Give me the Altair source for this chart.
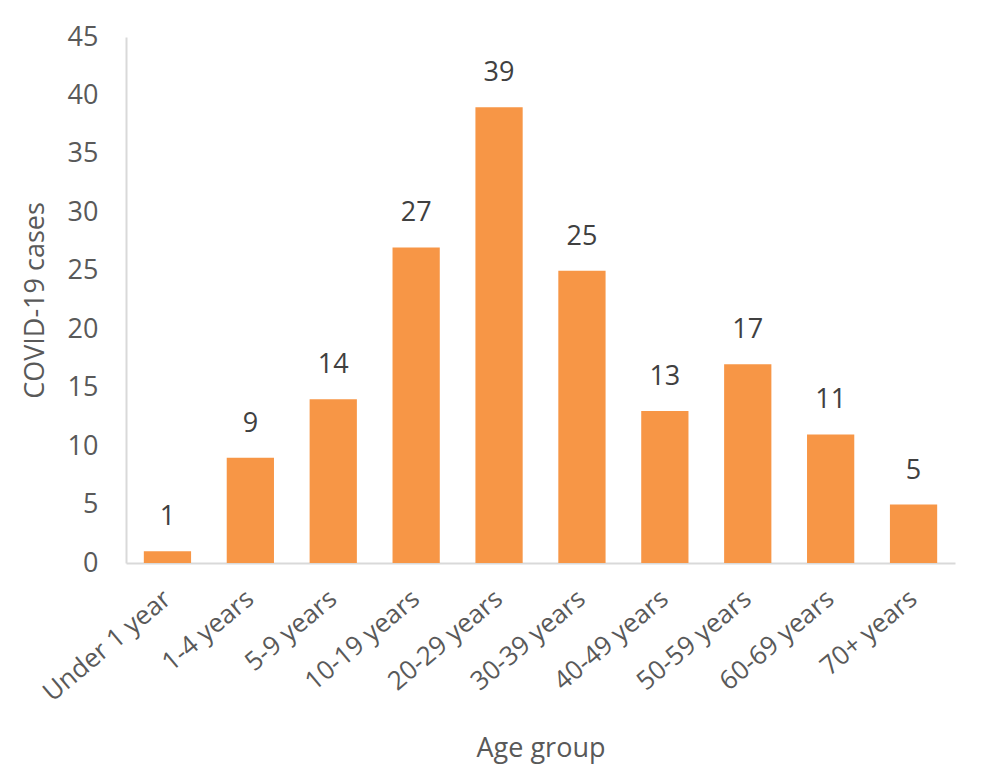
import altair as alt
import pandas as pd

categories = ["Under 1 year", "1-4 years", "5-9 years", "10-19 years", "20-29 years",
              "30-39 years", "40-49 years", "50-59 years", "60-69 years", "70+ years"]
cases = [1, 9, 14, 27, 39, 25, 13, 17, 11, 5]

df = pd.DataFrame({"Age group": categories, "cases": cases})

FONT = "Open Sans"
base = alt.Chart(df).encode(
    x=alt.X("Age group:N", sort=categories,
            scale=alt.Scale(paddingInner=0.43, paddingOuter=0.215),
            axis=alt.Axis(title="Age group", labelAngle=-40, labelAlign="right",
                          labelBaseline="middle", labelFontSize=26, labelColor="#595959",
                          labelFont=FONT, ticks=False, labelPadding=32,
                          domainColor="#d9d9d9", domainWidth=2,
                          titleFont=FONT, titleFontSize=27, titleFontWeight="normal",
                          titleColor="#595959", titlePadding=30)),
    y=alt.Y("cases:Q", scale=alt.Scale(domain=[0, 45]),
            axis=alt.Axis(title="COVID-19 cases", values=list(range(0, 50, 5)),
                          grid=False, ticks=False, labelPadding=28,
                          labelFontSize=27, labelColor="#595959", labelFont=FONT,
                          domainColor="#d9d9d9", domainWidth=2,
                          titleFont=FONT, titleFontSize=27, titleFontWeight="normal",
                          titleColor="#595959", titlePadding=18)),
)

bars = base.mark_bar(color="#F79646")
labels = base.mark_text(dy=-34, fontSize=27, font=FONT, color="#404040").encode(
    text="cases:Q")

chart = (bars + labels).properties(
    width=829, height=526,
    autosize=alt.AutoSizeParams(type="none"),
    padding={"left": 118, "top": 29, "right": 10, "bottom": 204},
).configure_view(stroke=None)

chart.save("out.html", embed_options={"renderer": "svg", "actions": False})
